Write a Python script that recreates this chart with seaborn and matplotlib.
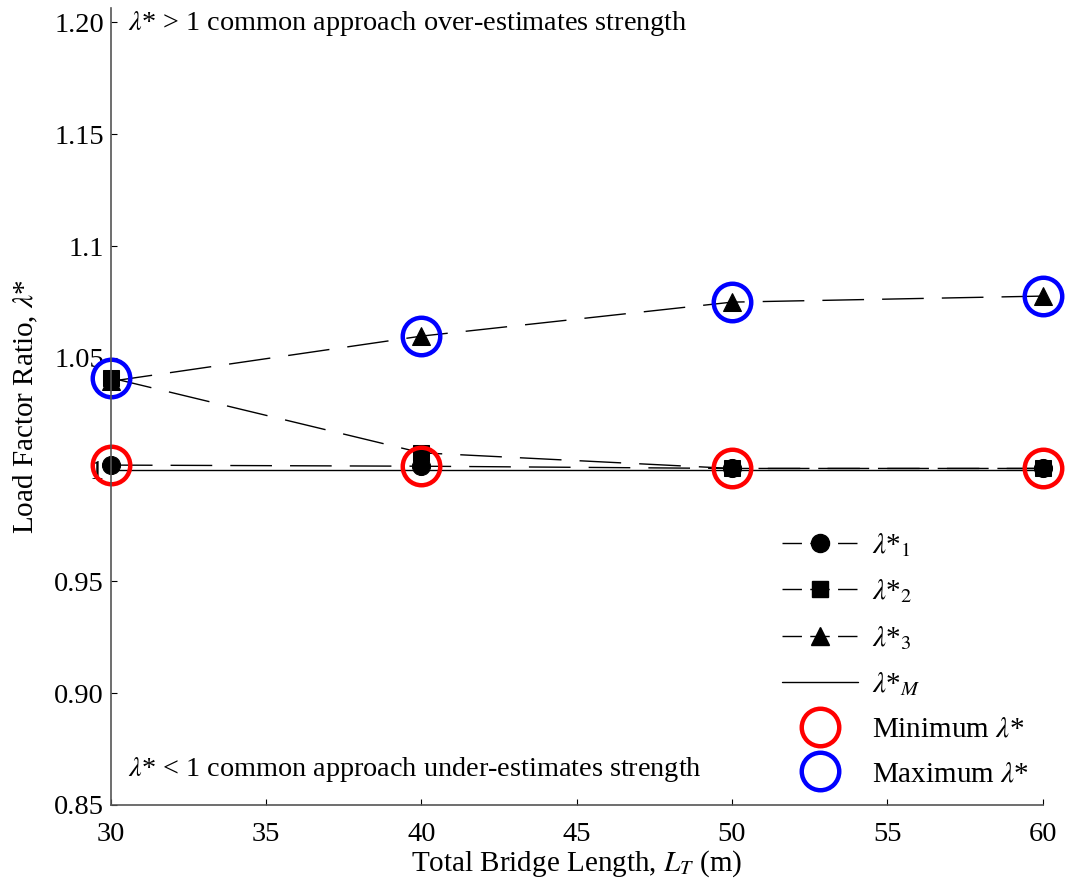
import numpy as np
import pandas as pd
import matplotlib
matplotlib.use("Agg")
import matplotlib.pyplot as plt
import seaborn as sns
from matplotlib.lines import Line2D

# Dane
bridge_len = [30, 40, 50, 60]
lam1 = [1.002, 1.0015, 1.0005, 1.0005]
lam2 = [1.041, 1.0075, 1.0005, 1.0005]
lam3 = [1.0395, 1.0597, 1.0749, 1.0776]
lamM = [1.0, 1.0, 1.0, 1.0]
ytick_vals = [0.85, 0.90, 0.95, 1.0, 1.05, 1.1, 1.15, 1.20]
ytick_labels = ["0.85", "0.90", "0.95", "1", "1.05", "1.1", "1.15", "1.20"]

df = pd.DataFrame({"L": bridge_len, "l1": lam1, "l2": lam2, "l3": lam3, "lM": lamM})
stack = df[["l1", "l2", "l3"]]
df["min"] = stack.min(axis=1)
df["max"] = stack.max(axis=1)

sns.set_style("ticks")
plt.rcParams["font.family"] = ["Liberation Serif", "DejaVu Serif"]
plt.rcParams["mathtext.fontset"] = "stix"
plt.rcParams["text.color"] = "black"
plt.rcParams["axes.labelcolor"] = "black"
plt.rcParams["xtick.color"] = "black"
plt.rcParams["ytick.color"] = "black"
fs_tick = 20.5
fs_lab = 21
fs_txt = 20.3
fs_leg = 21

fig = plt.figure(figsize=(10.66, 8.84), dpi=100)
ax = fig.add_axes([0.104, 0.0895, 0.874, 0.901])

dash = (0, (30, 13))
sns.lineplot(data=df, x="L", y="lM", ax=ax, color="black", lw=1)
sns.lineplot(data=df, x="L", y="l1", ax=ax, color="black", lw=1, linestyle=dash,
             marker="o", markersize=13, markeredgecolor="black")
sns.lineplot(data=df, x="L", y="l3", ax=ax, color="black", lw=1, linestyle=dash,
             marker="^", markersize=13, markeredgecolor="black")
sns.lineplot(data=df, x="L", y="l2", ax=ax, color="black", lw=1, linestyle=dash,
             marker="s", markersize=11, markeredgecolor="black")

# Okręgi min / max
ax.plot(df["L"], df["min"], ls="none", marker="o", ms=27, mfc="none", mec="#ff0000", mew=3.2)
ax.plot(df["L"], df["max"], ls="none", marker="o", ms=27, mfc="none", mec="#0000ff", mew=3.2)
for ln in ax.lines:
    ln.set_clip_on(False)

ax.set_xlim(30, 60)
ax.set_ylim(0.85, 1.2063)
ax.set_xticks([30, 35, 40, 45, 50, 55, 60])
ax.set_yticks(ytick_vals)
ax.set_yticklabels(ytick_labels)
ax.tick_params(direction="in", length=4, width=0.8, labelsize=fs_tick)
ax.tick_params(axis="x", pad=12)
ax.tick_params(axis="y", pad=5)
sns.despine(ax=ax)
for s in ["left", "bottom"]:
    ax.spines[s].set_color("#555555")
    ax.spines[s].set_linewidth(1.2)

ax.set_xlabel("Total Bridge Length, $L_T$ (m)", fontsize=fs_lab, labelpad=1)
ax.set_ylabel("Load Factor Ratio, $\\lambda$*", fontsize=fs_lab)
ax.yaxis.set_label_coords(-0.076, 0.5)

ax.text(30.55, 1.1995, "$\\lambda$* > 1 common approach over-estimates strength",
        fontsize=fs_txt, va="center", ha="left")
ax.text(30.55, 0.8658, "$\\lambda$* < 1 common approach under-estimates strength",
        fontsize=fs_txt, va="center", ha="left")

handles = [
    Line2D([], [], color="black", lw=1, linestyle=(0, (14, 6)), marker="o", ms=13),
    Line2D([], [], color="black", lw=1, linestyle=(0, (14, 6)), marker="s", ms=11),
    Line2D([], [], color="black", lw=1, linestyle=(0, (14, 6)), marker="^", ms=13),
    Line2D([], [], color="black", lw=1),
    Line2D([], [], ls="none", marker="o", ms=27, mfc="none", mec="#ff0000", mew=3.2),
    Line2D([], [], ls="none", marker="o", ms=27, mfc="none", mec="#0000ff", mew=3.2),
]
labels = ["$\\lambda$*$_1$", "$\\lambda$*$_2$", "$\\lambda$*$_3$", "$\\lambda$*$_{M}$",
          "Minimum $\\lambda$*", "Maximum $\\lambda$*"]
ax.legend(handles, labels, loc="lower right", bbox_to_anchor=(1.008, -0.004), frameon=False,
          fontsize=fs_leg, handlelength=2.6, labelspacing=0.63, handletextpad=0.5,
          borderaxespad=0.3)

fig.savefig("out.png", dpi=100)
